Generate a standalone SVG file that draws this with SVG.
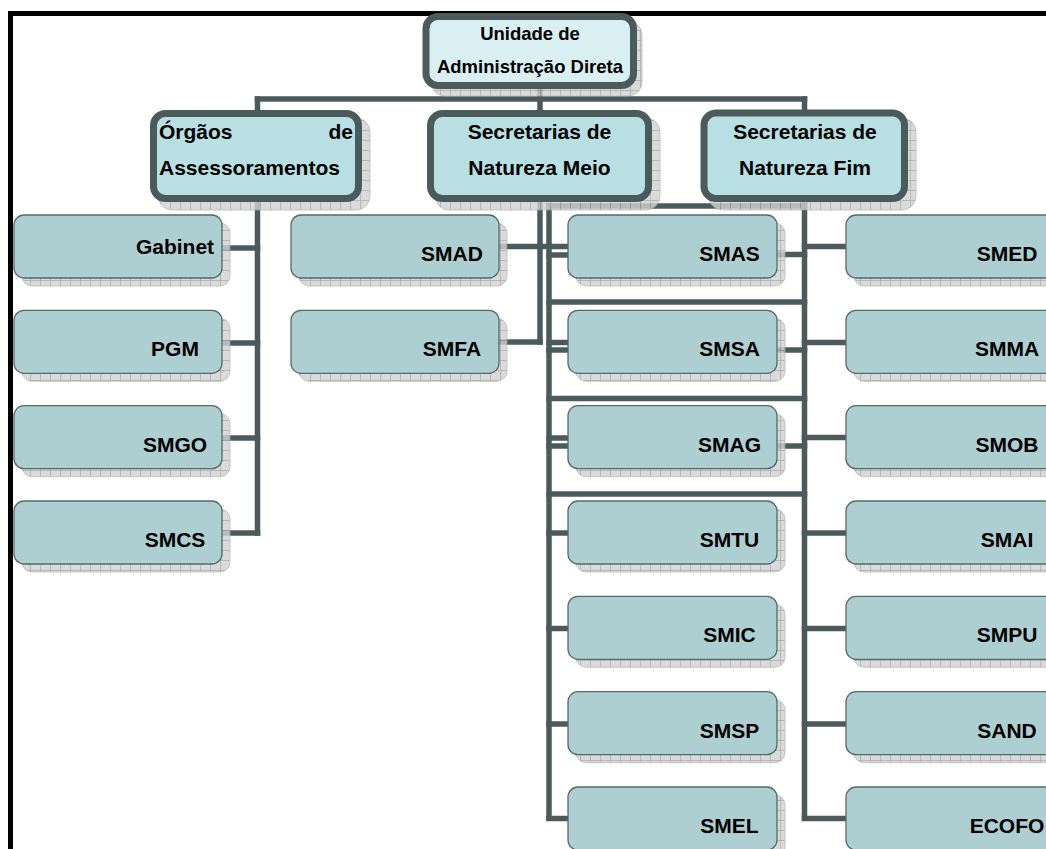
<svg xmlns="http://www.w3.org/2000/svg" width="1046" height="849" viewBox="0 0 1046 849">
<defs>
<pattern id="grid" width="10" height="10" patternUnits="userSpaceOnUse">
<rect width="10" height="10" fill="#d2d2d2"/>
<path d="M0 0.5H10M0.5 0V10" stroke="#9a9a9a" stroke-width="0.8" fill="none"/>
</pattern>
<style>
.conn line{stroke:#4b5b5b;stroke-width:5.5;stroke-linecap:square;fill:none}
.sh{fill:url(#grid);opacity:0.8;stroke:#aaaaaa;stroke-width:0.8}
.top{fill:#daeff1;stroke:#4b5b5b;stroke-width:7}
.mid{fill:#b8dfe2;stroke:#4b5b5b;stroke-width:7}
.leaf{fill:#aecfd2;stroke:#566a6a;stroke-width:1.3}
.t{font-family:"Liberation Sans",Arial,sans-serif;font-weight:bold;fill:#000}
.t18{font-size:18.5px;text-anchor:middle}
.t21{font-size:21px}
.c{text-anchor:middle}
</style>
</defs>
<rect width="1046" height="849" fill="#ffffff"/>
<g id="frame">
<rect x="8" y="11" width="1038" height="5" fill="#000"/>
<rect x="8" y="11" width="5" height="838" fill="#000"/>
</g>
<g id="connectors" class="conn">
<line x1="540" y1="89" x2="540" y2="342"/>
<line x1="257.5" y1="99" x2="804.5" y2="99"/>
<line x1="257.5" y1="99" x2="257.5" y2="533"/>
<line x1="804.5" y1="99" x2="804.5" y2="818"/>
<line x1="215" y1="248" x2="257.5" y2="248"/>
<line x1="215" y1="343" x2="257.5" y2="343"/>
<line x1="215" y1="438" x2="257.5" y2="438"/>
<line x1="215" y1="533" x2="257.5" y2="533"/>
<line x1="492" y1="246.5" x2="572" y2="246.5"/>
<line x1="492" y1="342" x2="540" y2="342"/>
<line x1="549" y1="206" x2="549" y2="818"/>
<line x1="549" y1="206" x2="804.5" y2="206"/>
<line x1="549" y1="302" x2="804.5" y2="302"/>
<line x1="549" y1="398.5" x2="804.5" y2="398.5"/>
<line x1="549" y1="494" x2="804.5" y2="494"/>
<line x1="549" y1="255" x2="572" y2="255"/>
<line x1="549" y1="342.5" x2="572" y2="342.5"/>
<line x1="549" y1="350" x2="572" y2="350"/>
<line x1="549" y1="438" x2="572" y2="438"/>
<line x1="549" y1="446" x2="572" y2="446"/>
<line x1="549" y1="533" x2="572" y2="533"/>
<line x1="549" y1="628.5" x2="572" y2="628.5"/>
<line x1="549" y1="724" x2="572" y2="724"/>
<line x1="549" y1="818.5" x2="572" y2="818.5"/>
<line x1="770" y1="254.5" x2="804.5" y2="254.5"/>
<line x1="770" y1="350" x2="804.5" y2="350"/>
<line x1="770" y1="446" x2="804.5" y2="446"/>
<line x1="804.5" y1="246.5" x2="850" y2="246.5"/>
<line x1="804.5" y1="342.5" x2="850" y2="342.5"/>
<line x1="804.5" y1="437.5" x2="850" y2="437.5"/>
<line x1="804.5" y1="533" x2="850" y2="533"/>
<line x1="804.5" y1="628.5" x2="850" y2="628.5"/>
<line x1="804.5" y1="724" x2="850" y2="724"/>
<line x1="804.5" y1="818.5" x2="850" y2="818.5"/>
</g>
<g id="n-unidade">
<rect class="sh" x="431" y="21" width="211" height="75" rx="14"/>
<rect class="top" x="426" y="16.5" width="207.5" height="69" rx="12"/>
<text class="t t18" x="530" y="40">Unidade de</text>
<text class="t t18" x="530" y="72.5">Administração Direta</text>
</g>
<g id="n-orgaos">
<rect class="sh" x="158" y="118" width="212" height="92" rx="14"/>
<rect class="mid" x="153.5" y="113.5" width="205" height="85" rx="12"/>
<text class="t t21" x="159" y="139">Órgãos</text>
<text class="t t21" x="353" y="139" text-anchor="end">de</text>
<text class="t t21" x="159" y="175">Assessoramentos</text>
</g>
<g id="n-meio">
<rect class="sh" x="435" y="118" width="225" height="92" rx="14"/>
<rect class="mid" x="430.5" y="113.5" width="218" height="85" rx="12"/>
<text class="t t21 c" x="539.5" y="139">Secretarias de</text>
<text class="t t21 c" x="539.5" y="175">Natureza Meio</text>
</g>
<g id="n-fim">
<rect class="sh" x="708.5" y="118" width="207.5" height="92" rx="14"/>
<rect class="mid" x="704" y="113" width="200.5" height="85.5" rx="12"/>
<text class="t t21 c" x="805" y="139">Secretarias de</text>
<text class="t t21 c" x="805" y="175">Natureza Fim</text>
</g>
<g id="n-gabinet"><rect class="sh" x="22" y="223" width="208" height="63" rx="10"/><rect class="leaf" x="14" y="215" width="208" height="63" rx="10"/><text class="t t21 c" x="175" y="254">Gabinet</text></g>
<g id="n-pgm"><rect class="sh" x="22" y="318.3" width="208" height="63" rx="10"/><rect class="leaf" x="14" y="310.3" width="208" height="63" rx="10"/><text class="t t21 c" x="175" y="356">PGM</text></g>
<g id="n-smgo"><rect class="sh" x="22" y="413.7" width="208" height="63" rx="10"/><rect class="leaf" x="14" y="405.7" width="208" height="63" rx="10"/><text class="t t21 c" x="175" y="451.5">SMGO</text></g>
<g id="n-smcs"><rect class="sh" x="22" y="509" width="208" height="63" rx="10"/><rect class="leaf" x="14" y="501" width="208" height="63" rx="10"/><text class="t t21 c" x="175" y="547">SMCS</text></g>
<g id="n-smad"><rect class="sh" x="299" y="223" width="208" height="63" rx="10"/><rect class="leaf" x="291" y="215" width="208" height="63" rx="10"/><text class="t t21 c" x="452" y="261">SMAD</text></g>
<g id="n-smfa"><rect class="sh" x="299" y="318.3" width="208" height="63" rx="10"/><rect class="leaf" x="291" y="310.3" width="208" height="63" rx="10"/><text class="t t21 c" x="452" y="356">SMFA</text></g>
<g id="n-smas"><rect class="sh" x="576" y="223" width="209" height="63" rx="10"/><rect class="leaf" x="568" y="215" width="209" height="63" rx="10"/><text class="t t21 c" x="729.5" y="261">SMAS</text></g>
<g id="n-smsa"><rect class="sh" x="576" y="318.3" width="209" height="63" rx="10"/><rect class="leaf" x="568" y="310.3" width="209" height="63" rx="10"/><text class="t t21 c" x="729.5" y="356">SMSA</text></g>
<g id="n-smag"><rect class="sh" x="576" y="413.7" width="209" height="63" rx="10"/><rect class="leaf" x="568" y="405.7" width="209" height="63" rx="10"/><text class="t t21 c" x="729.5" y="451.5">SMAG</text></g>
<g id="n-smtu"><rect class="sh" x="576" y="509" width="209" height="63" rx="10"/><rect class="leaf" x="568" y="501" width="209" height="63" rx="10"/><text class="t t21 c" x="729.5" y="547">SMTU</text></g>
<g id="n-smic"><rect class="sh" x="576" y="604.3" width="209" height="63" rx="10"/><rect class="leaf" x="568" y="596.3" width="209" height="63" rx="10"/><text class="t t21 c" x="729.5" y="642.3">SMIC</text></g>
<g id="n-smsp"><rect class="sh" x="576" y="699.7" width="209" height="63" rx="10"/><rect class="leaf" x="568" y="691.7" width="209" height="63" rx="10"/><text class="t t21 c" x="729.5" y="737.7">SMSP</text></g>
<g id="n-smel"><rect class="sh" x="576" y="795" width="209" height="63" rx="10"/><rect class="leaf" x="568" y="787" width="209" height="63" rx="10"/><text class="t t21 c" x="729.5" y="833">SMEL</text></g>
<g id="n-smed"><rect class="sh" x="854" y="223" width="209" height="63" rx="10"/><rect class="leaf" x="846" y="215" width="209" height="63" rx="10"/><text class="t t21 c" x="1007" y="261">SMED</text></g>
<g id="n-smma"><rect class="sh" x="854" y="318.3" width="209" height="63" rx="10"/><rect class="leaf" x="846" y="310.3" width="209" height="63" rx="10"/><text class="t t21 c" x="1007" y="356">SMMA</text></g>
<g id="n-smob"><rect class="sh" x="854" y="413.7" width="209" height="63" rx="10"/><rect class="leaf" x="846" y="405.7" width="209" height="63" rx="10"/><text class="t t21 c" x="1007" y="451.5">SMOB</text></g>
<g id="n-smai"><rect class="sh" x="854" y="509" width="209" height="63" rx="10"/><rect class="leaf" x="846" y="501" width="209" height="63" rx="10"/><text class="t t21 c" x="1007" y="547">SMAI</text></g>
<g id="n-smpu"><rect class="sh" x="854" y="604.3" width="209" height="63" rx="10"/><rect class="leaf" x="846" y="596.3" width="209" height="63" rx="10"/><text class="t t21 c" x="1007" y="642.3">SMPU</text></g>
<g id="n-sand"><rect class="sh" x="854" y="699.7" width="209" height="63" rx="10"/><rect class="leaf" x="846" y="691.7" width="209" height="63" rx="10"/><text class="t t21 c" x="1007" y="737.7">SAND</text></g>
<g id="n-ecofo"><rect class="sh" x="854" y="795" width="209" height="63" rx="10"/><rect class="leaf" x="846" y="787" width="209" height="63" rx="10"/><text class="t t21 c" x="1007" y="833">ECOFO</text></g>
</svg>
